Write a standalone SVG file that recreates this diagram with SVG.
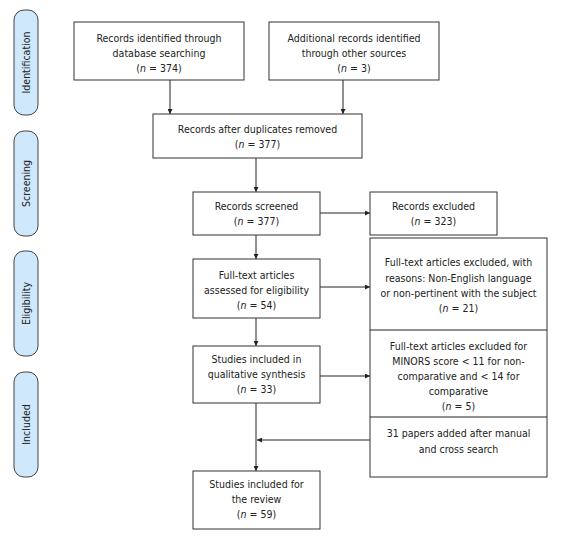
<svg xmlns="http://www.w3.org/2000/svg" width="561" height="542" viewBox="0 0 561 542">
<defs>
<marker id="ah" viewBox="0 0 10 10" refX="10" refY="5" markerWidth="5" markerHeight="5" orient="auto" markerUnits="userSpaceOnUse">
<path d="M0,0 L10,5 L0,10 z" fill="#222"/>
</marker>
<style>
.box{fill:#fff;stroke:#333;stroke-width:1}
.side{fill:#cfe8fb;stroke:#444;stroke-width:1}
.t{font-family:"DejaVu Sans Condensed","Liberation Sans",sans-serif;font-size:10.5px;fill:#222;text-anchor:middle}
.st{font-family:"DejaVu Sans Condensed","Liberation Sans",sans-serif;font-size:10.5px;fill:#222;text-anchor:middle}
.c{stroke:#222;stroke-width:1;fill:none}
</style>
</defs>
<rect width="561" height="542" fill="#fff"/>

<g id="side-identification"><rect class="side" x="14" y="10" width="24" height="105" rx="10"/><text class="st" transform="translate(30,62.5) rotate(-90)">Identification</text></g>
<g id="side-screening"><rect class="side" x="14" y="131" width="24" height="105" rx="10"/><text class="st" transform="translate(30,183.5) rotate(-90)">Screening</text></g>
<g id="side-eligibility"><rect class="side" x="14" y="251" width="24" height="105" rx="10"/><text class="st" transform="translate(30,303.5) rotate(-90)">Eligibility</text></g>
<g id="side-included"><rect class="side" x="14" y="372" width="24" height="105" rx="10"/><text class="st" transform="translate(30,424.5) rotate(-90)">Included</text></g>

<g id="connectors">
<line class="c" x1="170" y1="80" x2="170" y2="114" marker-end="url(#ah)"/>
<line class="c" x1="343" y1="80" x2="343" y2="114" marker-end="url(#ah)"/>
<line class="c" x1="256" y1="158" x2="256" y2="192" marker-end="url(#ah)"/>
<line class="c" x1="320" y1="213" x2="370" y2="213" marker-end="url(#ah)"/>
<line class="c" x1="256" y1="235" x2="256" y2="259" marker-end="url(#ah)"/>
<line class="c" x1="320" y1="287" x2="370" y2="287" marker-end="url(#ah)"/>
<line class="c" x1="256" y1="318" x2="256" y2="346" marker-end="url(#ah)"/>
<line class="c" x1="320" y1="376" x2="370" y2="376" marker-end="url(#ah)"/>
<line class="c" x1="256" y1="403" x2="256" y2="471" marker-end="url(#ah)"/>
<line class="c" x1="370" y1="440" x2="257" y2="440" marker-end="url(#ah)"/>
</g>

<g id="n-database"><rect class="box" x="74" y="22" width="170" height="58"/>
<text class="t" x="159" y="42">Records identified through</text>
<text class="t" x="159" y="57">database searching</text>
<text class="t" x="159" y="72">(<tspan font-style="italic">n</tspan> = 374)</text></g>

<g id="n-other"><rect class="box" x="269" y="22" width="170" height="58"/>
<text class="t" x="354" y="42">Additional records identified</text>
<text class="t" x="354" y="57">through other sources</text>
<text class="t" x="354" y="72">(<tspan font-style="italic">n</tspan> = 3)</text></g>

<g id="n-duplicates"><rect class="box" x="153" y="114" width="209" height="44"/>
<text class="t" x="257.5" y="133">Records after duplicates removed</text>
<text class="t" x="257.5" y="148">(<tspan font-style="italic">n</tspan> = 377)</text></g>

<g id="n-screened"><rect class="box" x="193" y="192" width="127" height="43"/>
<text class="t" x="256.5" y="210">Records screened</text>
<text class="t" x="256.5" y="225">(<tspan font-style="italic">n</tspan> = 377)</text></g>

<g id="n-excluded"><rect class="box" x="370" y="192" width="127" height="43"/>
<text class="t" x="433.5" y="210">Records excluded</text>
<text class="t" x="433.5" y="225">(<tspan font-style="italic">n</tspan> = 323)</text></g>

<g id="n-fulltext"><rect class="box" x="193" y="259" width="127" height="59"/>
<text class="t" x="256.5" y="279">Full-text articles</text>
<text class="t" x="256.5" y="294">assessed for eligibility</text>
<text class="t" x="256.5" y="309">(<tspan font-style="italic">n</tspan> = 54)</text></g>

<g id="n-right-panel"><rect class="box" x="370" y="238" width="177" height="239"/>
<line class="c" x1="370" y1="330" x2="547" y2="330"/>
<line class="c" x1="370" y1="417" x2="547" y2="417"/>
<text class="t" x="458.5" y="266">Full-text articles excluded, with</text>
<text class="t" x="458.5" y="282">reasons: Non-English language</text>
<text class="t" x="458.5" y="297">or non-pertinent with the subject</text>
<text class="t" x="458.5" y="312">(<tspan font-style="italic">n</tspan> = 21)</text>
<text class="t" x="458.5" y="350">Full-text articles excluded for</text>
<text class="t" x="458.5" y="365">MINORS score &lt; 11 for non-</text>
<text class="t" x="458.5" y="380">comparative and &lt; 14 for</text>
<text class="t" x="458.5" y="395">comparative</text>
<text class="t" x="458.5" y="410">(<tspan font-style="italic">n</tspan> = 5)</text>
<text class="t" x="458.5" y="437">31 papers added after manual</text>
<text class="t" x="458.5" y="453">and cross search</text></g>

<g id="n-qualitative"><rect class="box" x="193" y="346" width="127" height="57"/>
<text class="t" x="256.5" y="363">Studies included in</text>
<text class="t" x="256.5" y="378">qualitative synthesis</text>
<text class="t" x="256.5" y="393">(<tspan font-style="italic">n</tspan> = 33)</text></g>

<g id="n-review"><rect class="box" x="193" y="471" width="127" height="58"/>
<text class="t" x="256.5" y="488">Studies included for</text>
<text class="t" x="256.5" y="503">the review</text>
<text class="t" x="256.5" y="518">(<tspan font-style="italic">n</tspan> = 59)</text></g>
</svg>
